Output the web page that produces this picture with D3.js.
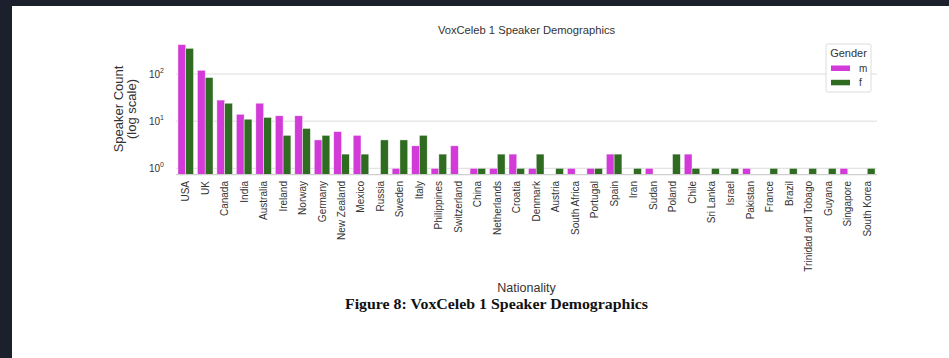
<!DOCTYPE html>
<html><head><meta charset="utf-8">
<script src="https://cdn.jsdelivr.net/npm/d3@7"></script>
<style>html,body{margin:0;padding:0;background:#1a202c;overflow:hidden}</style>
</head><body>
<svg id="c" width="949" height="358"></svg>
<script>
const countries = ["USA","UK","Canada","India","Australia","Ireland","Norway","Germany","New Zealand","Mexico","Russia","Sweden","Italy","Philippines","Switzerland","China","Netherlands","Croatia","Denmark","Austria","South Africa","Portugal","Spain","Iran","Sudan","Poland","Chile","Sri Lanka","Israel","Pakistan","France","Brazil","Trinidad and Tobago","Guyana","Singapore","South Korea"];
const male   = [420,120,28,14,24,13,13,4,6,5,0,1,3,1,3,1,1,2,1,0,1,1,2,0,1,0,2,0,0,1,0,0,0,0,1,0];
const female = [350,84,24,11,12,5,7,5,2,2,4,4,5,2,0,1,2,1,2,1,0,1,2,1,0,2,1,1,1,0,1,1,1,1,0,1];
const genders = ["m","f"];
const colors = ["#d23bd8","#2f6b21"];
const yTicks = [1,10,100];

const svg = d3.select("#c");
svg.append("rect").attr("x",12).attr("y",6).attr("width",937).attr("height",352).attr("fill","#fff");

const L=176, R=877, T=40, B=174.7;
const x = d3.scaleBand().domain(countries).range([L,R]).paddingInner(0).paddingOuter(0);
const gw = x.bandwidth()*0.8;
const xg = d3.scaleBand().domain(genders).range([x.bandwidth()*0.1, x.bandwidth()*0.1+gw]);
const y = d3.scaleLog().domain([0.732,526]).range([B,T]);

const font = "'Liberation Sans', Arial, sans-serif";

// grid
svg.append("g").selectAll("line").data(yTicks).join("line")
  .attr("x1",L).attr("x2",R).attr("y1",d=>y(d)).attr("y2",d=>y(d))
  .attr("stroke","#dcdcdc").attr("stroke-width",1);

// y tick labels
const yl = svg.append("g").attr("font-family",font).attr("fill","#333");
yTicks.forEach(v=>{
  const e = Math.round(Math.log10(v));
  const t = yl.append("text").attr("x",164).attr("y",y(v)+4).attr("text-anchor","end").attr("font-size",10).attr("fill","#333");
  t.append("tspan").text("10");
  t.append("tspan").attr("font-size",7).attr("dy",-5).text(e);
});

// bars
const data = [];
countries.forEach((c,i)=>{ [male[i],female[i]].forEach((v,j)=>{ if(v>0) data.push({c,g:genders[j],v,j}); }); });
svg.append("g").selectAll("rect").data(data).join("rect")
  .attr("x",d=>x(d.c)+xg(d.g)).attr("width",xg.bandwidth())
  .attr("y",d=>y(d.v)).attr("height",d=>B-y(d.v))
  .attr("fill",d=>colors[d.j]).attr("stroke","#fff").attr("stroke-width",0.6).attr("stroke-opacity",0.7);

// bottom spine
svg.append("line").attr("x1",L).attr("x2",R).attr("y1",B).attr("y2",B).attr("stroke","#cfcfcf").attr("stroke-width",1.2);

// x labels
svg.append("g").selectAll("text").data(countries).join("text")
  .attr("transform",d=>`translate(${x(d)+x.bandwidth()/2},181) rotate(-90)`)
  .attr("text-anchor","end").attr("dy","0.35em")
  .attr("font-family",font).attr("font-size",10).attr("fill","#333").text(d=>d);

// title
svg.append("text").attr("x",(L+R)/2).attr("y",34).attr("text-anchor","middle")
  .attr("font-family",font).attr("font-size",11.2).attr("fill","#333").text("VoxCeleb 1 Speaker Demographics");

// y axis label
const ylab = svg.append("text").attr("transform","translate(118,109) rotate(-90)")
  .attr("text-anchor","middle").attr("font-family",font).attr("font-size",13).attr("fill","#333");
ylab.append("tspan").attr("x",0).attr("y",4.5).text("Speaker Count");
ylab.append("tspan").attr("x",0).attr("y",17.5).text("(log scale)");

// x axis label
svg.append("text").attr("x",(L+R)/2).attr("y",291.5).attr("text-anchor","middle")
  .attr("font-family",font).attr("font-size",12.5).attr("fill","#333").text("Nationality");

// caption
svg.append("text").attr("x",496.5).attr("y",308.5).attr("text-anchor","middle")
  .attr("font-family","'Liberation Serif','Times New Roman',serif").attr("font-weight","bold")
  .attr("font-size",14).attr("fill","#111").attr("textLength",303).attr("lengthAdjust","spacingAndGlyphs")
  .text("Figure 8: VoxCeleb 1 Speaker Demographics");

// legend
const lg = svg.append("g");
lg.append("rect").attr("x",826).attr("y",44).attr("width",45).attr("height",48).attr("rx",2)
  .attr("fill","#fff").attr("fill-opacity",0.85).attr("stroke","#dcdcdc");
lg.append("text").attr("x",848.5).attr("y",57).attr("text-anchor","middle").attr("font-family",font).attr("font-size",11).attr("fill","#333").text("Gender");
genders.forEach((g,i)=>{
  lg.append("rect").attr("x",831).attr("y",65.5+i*14.3).attr("width",19).attr("height",5.5).attr("fill",colors[i]);
  lg.append("text").attr("x",859).attr("y",72+i*14.3).attr("font-family",font).attr("font-size",10).attr("fill","#333").text(g);
});
</script>
</body></html>
